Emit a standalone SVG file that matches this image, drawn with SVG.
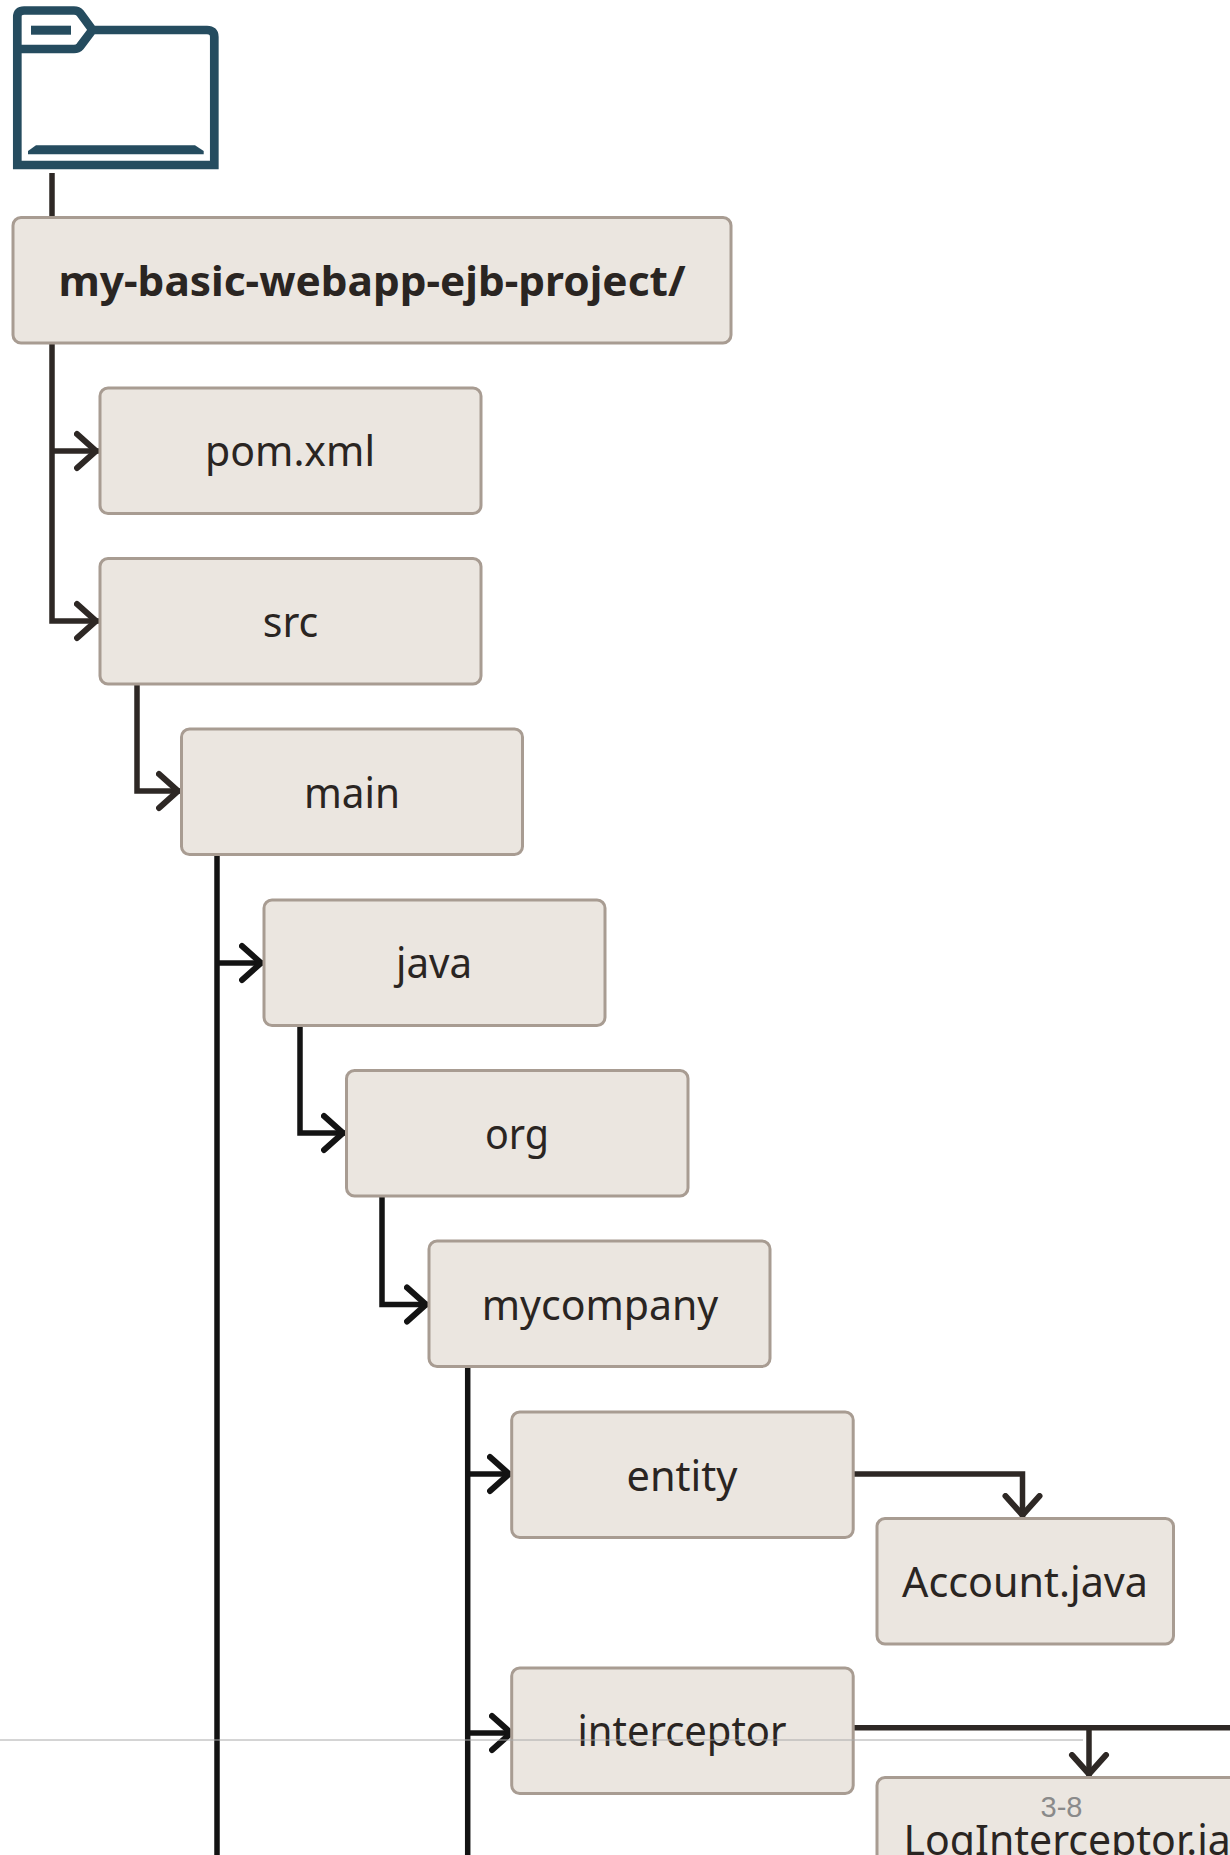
<svg xmlns="http://www.w3.org/2000/svg" width="1230" height="1855" viewBox="0 0 1230 1855">
<style>
.box{fill:#ebe6e0;stroke:#a89c92;stroke-width:3}
.t{font-family:"Noto Sans","Liberation Sans",sans-serif;font-size:41px;fill:#2a2522;text-anchor:middle}
.c{fill:none;stroke-width:5.5;stroke-linejoin:miter}
.w{stroke:#2e2825;marker-end:url(#aw)}
.k{stroke:#131313;marker-end:url(#ak)}
.n{stroke:#2e2825}
.v{stroke:#131313}
.ic{fill:none;stroke:#254c5f;stroke-width:8.7}
</style>
<defs>
<marker id="aw" markerUnits="userSpaceOnUse" orient="auto" markerWidth="40" markerHeight="50" refX="25" refY="25" viewBox="0 0 40 50"><path d="M3,8 L22,25 L3,42" fill="none" stroke="#2e2825" stroke-width="6" stroke-linecap="round"/></marker>
<marker id="ak" markerUnits="userSpaceOnUse" orient="auto" markerWidth="40" markerHeight="50" refX="25" refY="25" viewBox="0 0 40 50"><path d="M3,8 L22,25 L3,42" fill="none" stroke="#131313" stroke-width="6" stroke-linecap="round"/></marker>
</defs>
<rect width="1230" height="1855" fill="#fff"/>
<g id="folder-icon">
<path class="ic" d="M17.3,49 V17 Q17.3,10.5 24,10.5 H74 Q78,10.5 80,13 L92.5,30 L80,46.5 Q78,49 74,49 H17.3 V165 H214.3 V37 Q214.3,30 207,30 H92.5"/>
<rect x="31" y="25.7" width="40" height="9" fill="#254c5f"/>
<path d="M28,151 L36,145.3 H195 L203.7,151 V154.3 H28 Z" fill="#254c5f"/>
</g>
<g id="connectors">
<path class="c n" d="M52,173 V218"/>
<path class="c w" d="M52,343 V621 H99"/>
<path class="c w" d="M52,451 H99"/>
<path class="c w" d="M137,684 V791 H181"/>
<path class="c v" d="M217,854 V1855"/>
<path class="c k" d="M217,963 H264"/>
<path class="c k" d="M300,1025 V1133 H346"/>
<path class="c k" d="M382,1196 V1304.5 H429"/>
<path class="c v" d="M467.7,1367 V1855"/>
<path class="c k" d="M467.7,1474 H512"/>
<path class="c k" d="M467.7,1733 H514"/>
<path class="c w" d="M854,1474 H1022.5 V1518"/>
<path class="c n" d="M854,1727.7 H1230"/>
<path class="c w" d="M1089,1727.7 V1777"/>
</g>
<g id="node-root"><rect class="box" x="13" y="217.5" width="718" height="125.5" rx="8"/><text class="t" x="372" y="296" font-weight="700" textLength="627" lengthAdjust="spacingAndGlyphs">my-basic-webapp-ejb-project/</text></g>
<g id="node-pom"><rect class="box" x="100" y="388" width="381" height="125.5" rx="8"/><text class="t" x="290" y="466" textLength="170" lengthAdjust="spacingAndGlyphs">pom.xml</text></g>
<g id="node-src"><rect class="box" x="100" y="558.5" width="381" height="125.5" rx="8"/><text class="t" x="290.5" y="637" textLength="55.5" lengthAdjust="spacingAndGlyphs">src</text></g>
<g id="node-main"><rect class="box" x="181.5" y="729" width="341" height="125.5" rx="8"/><text class="t" x="352" y="808" textLength="96" lengthAdjust="spacingAndGlyphs">main</text></g>
<g id="node-java"><rect class="box" x="264" y="900" width="341" height="125.5" rx="8"/><text class="t" x="434" y="978" textLength="76" lengthAdjust="spacingAndGlyphs">java</text></g>
<g id="node-org"><rect class="box" x="346.5" y="1070.5" width="341.5" height="125.5" rx="8"/><text class="t" x="517" y="1149" textLength="64" lengthAdjust="spacingAndGlyphs">org</text></g>
<g id="node-mycompany"><rect class="box" x="429" y="1241" width="341" height="125.5" rx="8"/><text class="t" x="600" y="1320" textLength="236.5" lengthAdjust="spacingAndGlyphs">mycompany</text></g>
<g id="node-entity"><rect class="box" x="511.7" y="1412" width="341.5" height="125.5" rx="8"/><text class="t" x="682" y="1491" textLength="111" lengthAdjust="spacingAndGlyphs">entity</text></g>
<g id="node-account"><rect class="box" x="877" y="1518.5" width="296.5" height="125.5" rx="8"/><text class="t" x="1025" y="1597" textLength="246" lengthAdjust="spacingAndGlyphs">Account.java</text></g>
<g id="node-interceptor"><rect class="box" x="511.7" y="1668" width="341.5" height="125.5" rx="8"/><text class="t" x="682" y="1746" textLength="209" lengthAdjust="spacingAndGlyphs">interceptor</text></g>
<g id="node-loginterceptor"><rect class="box" x="877" y="1777.5" width="500" height="126" rx="8"/><text class="t" x="903.5" y="1855" style="text-anchor:start">LogInterceptor.java</text></g>
<line id="page-rule" x1="0" y1="1740" x2="1083" y2="1740" stroke="#aaa" stroke-width="1"/>
<text id="page-number" x="1061.5" y="1817" font-family="'Liberation Sans',sans-serif" font-size="29" fill="#8a8a8a" text-anchor="middle">3-8</text>
</svg>
